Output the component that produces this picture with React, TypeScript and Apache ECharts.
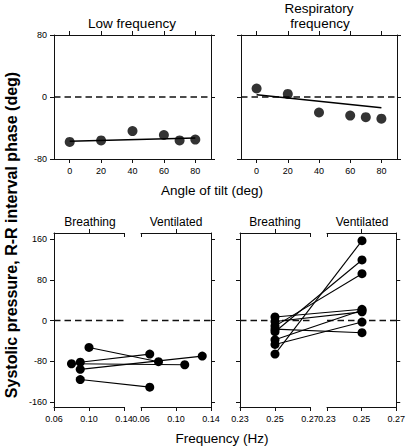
import React, { useEffect, useRef } from "react";
import * as echarts from "echarts";

// ---- Data ----
const tiltAngles = [0, 20, 40, 60, 70, 80];
const lowFreqPhase = [-58, -56, -44, -49, -56, -55];
const respFreqPhase = [11, 4, -20, -24, -26, -28];
const fitAngles = [0, 80];
const lowFreqFit = [-57, -53];
const respFreqFit = [3, -14];

const tiltTicks = [0, 20, 40, 60, 80];
const topPhaseTicks = [-80, 0, 80];
const bottomPhaseTicks = [-160, -80, 0, 80, 160];
const lowFreqTicks = [0.06, 0.1, 0.14];
const respFreqTicks = [0.23, 0.25, 0.27];

// Low frequency group: breathing -> ventilated pairs
const lowBreathFreq = [0.1, 0.09, 0.08, 0.09, 0.09];
const lowBreathPhase = [-53, -82, -85, -96, -116];
const lowVentFreq = [0.08, 0.07, 0.11, 0.13, 0.07];
const lowVentPhase = [-81, -66, -87, -70, -131];

// Respiratory frequency group: breathing -> ventilated pairs
const respBreathFreq = [0.25, 0.25, 0.25, 0.25, 0.25, 0.25, 0.25, 0.25];
const respBreathPhase = [7, -2, -11, -17, -22, -38, -47, -66];
const respVentFreq = [0.25, 0.25, 0.25, 0.25, 0.25, 0.25, 0.25, 0.25];
const respVentPhase = [22, 17, 92, -24, 119, 20, -3, 157];

// ---- Layout ----
const FONT = "'Liberation Sans', Arial, sans-serif";
const INK = "#111";
const TOP_Y = 35;
const TOP_H = 124;
const TL_LEFT = 54;
const TL_W = 157;
const TR_LEFT = 241;
const TR_W = 156;
const BOT_Y = 233;
const BOT_H = 174;
const SUB_W = 70;
const BLB_LEFT = 54;
const BLV_LEFT = 141;
const BRB_LEFT = 240;
const BRV_LEFT = 327;
const BOT_MIN = -170;
const BOT_MAX = 172;

const LOW_SPAN = 0.08;
const RESP_SPAN = 0.04;
const LOW_SHIFT = (LOW_SPAN * (BLV_LEFT - BLB_LEFT)) / SUB_W;
const RESP_SHIFT = (RESP_SPAN * (BRV_LEFT - BRB_LEFT)) / SUB_W;
const LOW_MAX = 0.06 + (LOW_SPAN * (BLV_LEFT + SUB_W - BLB_LEFT)) / SUB_W;
const RESP_MAX = 0.23 + (RESP_SPAN * (BRV_LEFT + SUB_W - BRB_LEFT)) / SUB_W;

const lineStyle = { color: INK, width: 1 };
const labelStyle = { color: "#000", fontSize: 9, fontFamily: FONT };

function xAx(grid: number, min: number, max: number, opts: any = {}) {
  return {
    type: "value",
    gridIndex: grid,
    min,
    max,
    position: opts.position || "bottom",
    offset: 0,
    axisLine: { show: opts.line !== false, onZero: false, lineStyle },
    axisTick: {
      show: !!opts.ticks,
      customValues: opts.ticks,
      length: 4,
      inside: !!opts.inside,
      lineStyle,
    },
    axisLabel: opts.labels
      ? { show: true, customValues: opts.labels, margin: 7, formatter: opts.fmt, ...labelStyle }
      : { show: false },
    splitLine: { show: false },
  };
}

function yAx(grid: number, min: number, max: number, opts: any = {}) {
  return {
    type: "value",
    gridIndex: grid,
    min,
    max,
    position: opts.position || "left",
    axisLine: { show: opts.line !== false, onZero: false, lineStyle },
    axisTick: { show: !!opts.ticks, customValues: opts.ticks, length: 4, lineStyle },
    axisLabel: opts.labels
      ? { show: true, customValues: opts.labels, margin: 7, ...labelStyle }
      : { show: false },
    splitLine: { show: false },
  };
}

function zeroLine(xi: number, yi: number, x0: number, x1: number) {
  return {
    type: "line",
    xAxisIndex: xi,
    yAxisIndex: yi,
    data: [
      [x0, 0],
      [x1, 0],
    ],
    symbol: "none",
    lineStyle: { color: INK, width: 1.3, type: [6.5, 4] },
    z: 1,
  };
}

function scatter(xi: number, yi: number, xs: number[], ys: number[]) {
  return {
    type: "scatter",
    xAxisIndex: xi,
    yAxisIndex: yi,
    data: xs.map((x, i) => [x, ys[i]]),
    symbolSize: 10,
    itemStyle: { color: "#000" },
    z: 5,
  };
}

function fitLine(xi: number, yi: number, xs: number[], ys: number[]) {
  return {
    type: "line",
    xAxisIndex: xi,
    yAxisIndex: yi,
    data: xs.map((x, i) => [x, ys[i]]),
    symbol: "none",
    lineStyle: { color: "#000", width: 1.5 },
    z: 3,
  };
}

function pairs(xi: number, yi: number, bf: number[], bp: number[], vf: number[], vp: number[], shift: number) {
  return bf.map((f, i) => ({
    type: "line",
    xAxisIndex: xi,
    yAxisIndex: yi,
    data: [
      [f, bp[i]],
      [vf[i] + shift, vp[i]],
    ],
    symbol: "circle",
    symbolSize: 9,
    showAllSymbol: true,
    itemStyle: { color: "#000" },
    lineStyle: { color: "#000", width: 1.1 },
    z: 4,
  }));
}

function txt(text: string, x: number, y: number, size: number, extra: any = {}) {
  return {
    type: "text",
    x,
    y,
    rotation: extra.rotation || 0,
    style: {
      text,
      fill: "#000",
      font: `${extra.bold ? "bold " : ""}${size}px ${FONT}`,
      textAlign: "center",
      textVerticalAlign: "middle",
    },
  };
}

const fmt2 = (v: number) => v.toFixed(2);

export default function App() {
  const ref = useRef<HTMLDivElement>(null);
  useEffect(() => {
    if (!ref.current) return;
    const chart = echarts.init(ref.current, null, { renderer: "svg" });
    const grids = [
      { left: TL_LEFT, top: TOP_Y, width: TL_W, height: TOP_H },
      { left: TR_LEFT, top: TOP_Y, width: TR_W, height: TOP_H },
      { left: BLB_LEFT, top: BOT_Y, width: SUB_W, height: BOT_H },
      { left: BLV_LEFT, top: BOT_Y, width: SUB_W, height: BOT_H },
      { left: BRB_LEFT, top: BOT_Y, width: SUB_W, height: BOT_H },
      { left: BRV_LEFT, top: BOT_Y, width: SUB_W, height: BOT_H },
      { left: BLB_LEFT, top: BOT_Y, width: BLV_LEFT + SUB_W - BLB_LEFT, height: BOT_H },
      { left: BRB_LEFT, top: BOT_Y, width: BRV_LEFT + SUB_W - BRB_LEFT, height: BOT_H },
    ].map((g) => ({ ...g, containLabel: false }));

    const xAxis = [
      xAx(0, -10, 90, { ticks: tiltTicks, labels: tiltTicks }), // 0
      xAx(0, -10, 90, { position: "top", ticks: tiltTicks }), // 1
      xAx(1, -10, 90, { ticks: tiltTicks, labels: tiltTicks }), // 2
      xAx(1, -10, 90, { position: "top", ticks: tiltTicks }), // 3
      xAx(2, 0.06, 0.14, { ticks: lowFreqTicks, labels: lowFreqTicks, fmt: fmt2 }), // 4
      xAx(2, 0.06, 0.14, { position: "top", ticks: [0.1] }), // 5
      xAx(3, 0.06, 0.14, { ticks: lowFreqTicks, labels: lowFreqTicks, fmt: fmt2 }), // 6
      xAx(3, 0.06, 0.14, { position: "top", ticks: [0.1] }), // 7
      xAx(4, 0.23, 0.27, { ticks: respFreqTicks, labels: respFreqTicks, fmt: fmt2 }), // 8
      xAx(4, 0.23, 0.27, { position: "top", ticks: [0.25] }), // 9
      xAx(5, 0.23, 0.27, { ticks: respFreqTicks, labels: respFreqTicks, fmt: fmt2 }), // 10
      xAx(5, 0.23, 0.27, { position: "top", ticks: [0.25] }), // 11
      xAx(6, 0.06, LOW_MAX, { line: false }), // 12
      xAx(7, 0.23, RESP_MAX, { line: false }), // 13
      xAx(2, 0.06, 0.14, { position: "top", line: false, inside: true, ticks: [0.06, 0.14] }), // 14
      xAx(3, 0.06, 0.14, { position: "top", line: false, inside: true, ticks: [0.06] }), // 15
      xAx(4, 0.23, 0.27, { position: "top", line: false, inside: true, ticks: [0.23, 0.27] }), // 16
      xAx(5, 0.23, 0.27, { position: "top", line: false, inside: true, ticks: [0.23] }), // 17
    ];
    const yAxis = [
      yAx(0, -80, 80, { ticks: topPhaseTicks, labels: topPhaseTicks }), // 0
      yAx(0, -80, 80, { position: "right", ticks: topPhaseTicks }), // 1
      yAx(1, -80, 80, { ticks: topPhaseTicks }), // 2
      yAx(1, -80, 80, { position: "right", ticks: topPhaseTicks }), // 3
      yAx(2, BOT_MIN, BOT_MAX, { ticks: bottomPhaseTicks, labels: bottomPhaseTicks }), // 4
      yAx(3, BOT_MIN, BOT_MAX, { position: "right", ticks: bottomPhaseTicks }), // 5
      yAx(4, BOT_MIN, BOT_MAX, { ticks: bottomPhaseTicks }), // 6
      yAx(5, BOT_MIN, BOT_MAX, { position: "right", ticks: bottomPhaseTicks }), // 7
      yAx(6, BOT_MIN, BOT_MAX, { line: false }), // 8
      yAx(7, BOT_MIN, BOT_MAX, { line: false }), // 9
    ];

    const series: any[] = [
      zeroLine(0, 0, -10, 90),
      fitLine(0, 0, fitAngles, lowFreqFit),
      scatter(0, 0, tiltAngles, lowFreqPhase),
      zeroLine(2, 2, -10, 90),
      fitLine(2, 2, fitAngles, respFreqFit),
      scatter(2, 2, tiltAngles, respFreqPhase),
      zeroLine(4, 4, 0.06, 0.14),
      zeroLine(6, 5, 0.06, 0.14),
      zeroLine(8, 6, 0.23, 0.27),
      zeroLine(10, 7, 0.23, 0.27),
      ...pairs(12, 8, lowBreathFreq, lowBreathPhase, lowVentFreq, lowVentPhase, LOW_SHIFT),
      ...pairs(13, 9, respBreathFreq, respBreathPhase, respVentFreq, respVentPhase, RESP_SHIFT),
    ];

    chart.setOption({
      animation: false,
      backgroundColor: "#fff",
      grid: grids,
      xAxis,
      yAxis,
      series,
      graphic: [
        txt("Low frequency", 132, 23, 13.5),
        txt("Respiratory", 319, 8, 13.5),
        txt("frequency", 320, 23, 13.5),
        txt("Angle of tilt (deg)", 212, 190, 13.5),
        txt("Breathing", 90, 222, 12),
        txt("Ventilated", 176, 222, 12),
        txt("Breathing", 275, 222, 12),
        txt("Ventilated", 362, 222, 12),
        txt("Frequency (Hz)", 222, 438, 13.5),
        txt("Systolic pressure, R-R interval phase (deg)", 11, 235, 16, {
          bold: true,
          rotation: Math.PI / 2,
        }),
      ],
    });
    return () => chart.dispose();
  }, []);
  return (
    <div
      ref={ref}
      style={{ position: "absolute", left: 0, top: 0, width: 408, height: 447 }}
    />
  );
}
